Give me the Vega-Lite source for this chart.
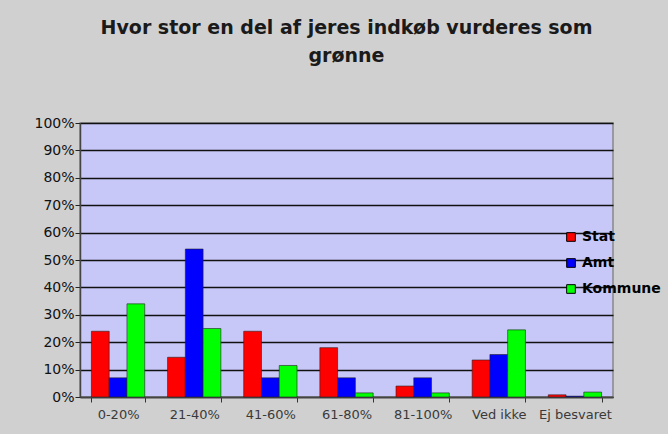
{
  "$schema": "https://vega.github.io/schema/vega-lite/v6.json",
  "width": 533,
  "height": 274,
  "autosize": {"type": "none"},
  "padding": {"left": 80, "top": 123, "right": 55, "bottom": 37},
  "background": "#d0d0d0",
  "title": {
    "text": ["Hvor stor en del af jeres indkøb vurderes som", "grønne"],
    "font": "DejaVu Sans",
    "fontSize": 19,
    "fontWeight": "bold",
    "color": "#1a1a1a",
    "lineHeight": 28,
    "anchor": "middle",
    "frame": "group",
    "offset": 50
  },
  "data": {
    "values": [
      {"kategori": "0-20%", "gruppe": "Stat", "andel": 0.24},
      {"kategori": "0-20%", "gruppe": "Amt", "andel": 0.07},
      {"kategori": "0-20%", "gruppe": "Kommune", "andel": 0.34},
      {"kategori": "21-40%", "gruppe": "Stat", "andel": 0.145},
      {"kategori": "21-40%", "gruppe": "Amt", "andel": 0.54},
      {"kategori": "21-40%", "gruppe": "Kommune", "andel": 0.25},
      {"kategori": "41-60%", "gruppe": "Stat", "andel": 0.24},
      {"kategori": "41-60%", "gruppe": "Amt", "andel": 0.07},
      {"kategori": "41-60%", "gruppe": "Kommune", "andel": 0.115},
      {"kategori": "61-80%", "gruppe": "Stat", "andel": 0.18},
      {"kategori": "61-80%", "gruppe": "Amt", "andel": 0.07},
      {"kategori": "61-80%", "gruppe": "Kommune", "andel": 0.015},
      {"kategori": "81-100%", "gruppe": "Stat", "andel": 0.04},
      {"kategori": "81-100%", "gruppe": "Amt", "andel": 0.07},
      {"kategori": "81-100%", "gruppe": "Kommune", "andel": 0.015},
      {"kategori": "Ved ikke", "gruppe": "Stat", "andel": 0.135},
      {"kategori": "Ved ikke", "gruppe": "Amt", "andel": 0.155},
      {"kategori": "Ved ikke", "gruppe": "Kommune", "andel": 0.245},
      {"kategori": "Ej besvaret", "gruppe": "Stat", "andel": 0.008},
      {"kategori": "Ej besvaret", "gruppe": "Amt", "andel": 0.003},
      {"kategori": "Ej besvaret", "gruppe": "Kommune", "andel": 0.018}
    ]
  },
  "mark": {"type": "bar", "stroke": "#222222", "strokeWidth": 0.6},
  "encoding": {
    "x": {
      "field": "kategori",
      "type": "nominal",
      "sort": null,
      "scale": {"paddingInner": 0.3, "paddingOuter": 0.15},
      "axis": {
        "title": null,
        "labelAngle": 0,
        "labelFont": "DejaVu Sans",
        "labelFontSize": 13,
        "labelColor": "#3a3a3a",
        "labelPadding": 6,
        "tickBand": "extent",
        "tickColor": "#333333",
        "tickSize": 5,
        "domainColor": "#444444",
        "domainWidth": 1.5,
        "grid": false
      }
    },
    "xOffset": {
      "field": "gruppe",
      "type": "nominal",
      "sort": ["Stat", "Amt", "Kommune"]
    },
    "y": {
      "field": "andel",
      "type": "quantitative",
      "scale": {"domain": [0, 1], "nice": false},
      "axis": {
        "title": null,
        "values": [0, 0.1, 0.2, 0.3, 0.4, 0.5, 0.6, 0.7, 0.8, 0.9, 1],
        "format": ".0%",
        "labelFont": "DejaVu Sans",
        "labelFontSize": 14,
        "labelColor": "#111111",
        "labelPadding": 1,
        "tickSize": 5,
        "tickColor": "#222222",
        "domainColor": "#444444",
        "domainWidth": 1.5,
        "grid": true,
        "gridColor": "#111111",
        "gridWidth": 1.6
      }
    },
    "color": {
      "field": "gruppe",
      "type": "nominal",
      "sort": ["Stat", "Amt", "Kommune"],
      "scale": {"domain": ["Stat", "Amt", "Kommune"], "range": ["#ff0000", "#0000ff", "#00ff00"]},
      "legend": {
        "title": null,
        "orient": "none",
        "legendX": 484,
        "legendY": 107,
        "padding": 0,
        "symbolType": "square",
        "symbolSize": 75,
        "symbolStrokeColor": "#000000",
        "symbolStrokeWidth": 1,
        "symbolOpacity": 1,
        "labelFont": "DejaVu Sans",
        "labelFontSize": 14,
        "labelFontWeight": "bold",
        "labelColor": "#000000",
        "labelOffset": 4,
        "rowPadding": 12
      }
    }
  },
  "config": {
    "view": {"fill": "#c8c8f8", "stroke": "#888888", "strokeWidth": 1.5}
  }
}
